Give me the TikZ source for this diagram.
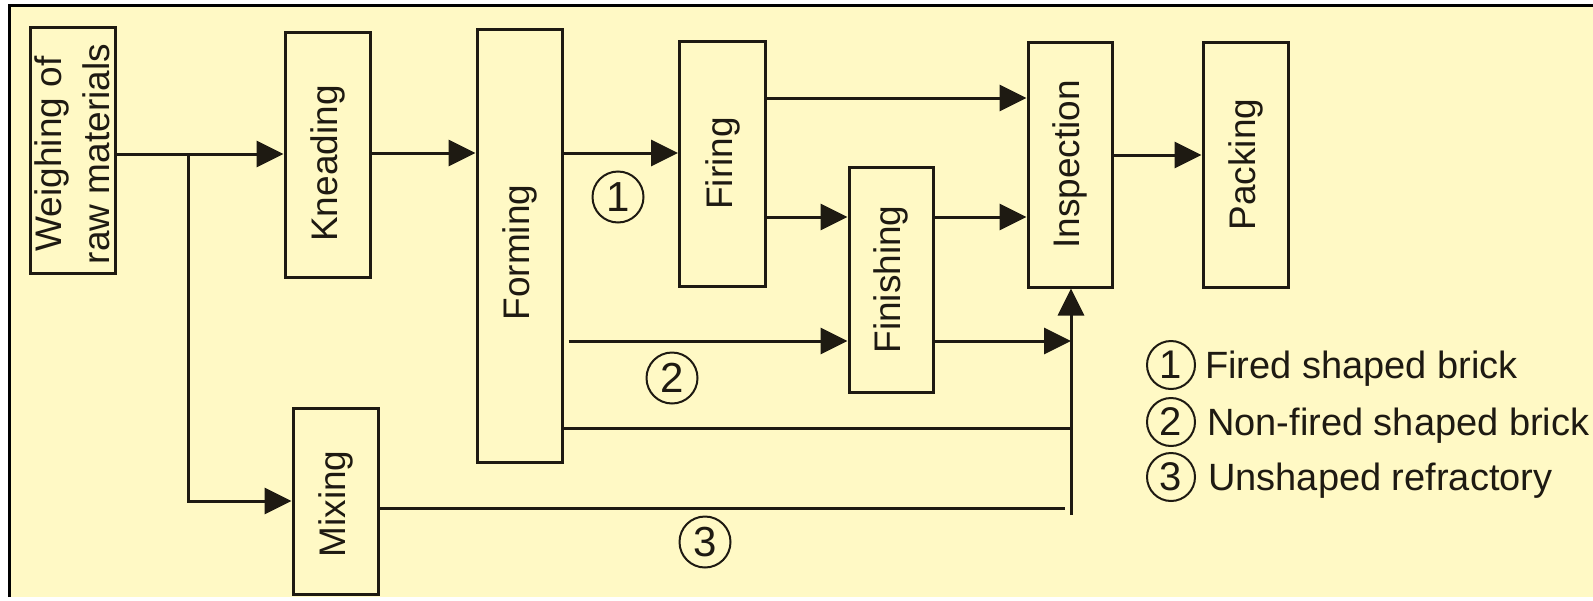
\documentclass[tikz,border=0pt]{standalone}
\usepackage{fontspec}
\setmainfont{Liberation Sans}
\usetikzlibrary{arrows.meta,calc}
\definecolor{bgy}{RGB}{255,249,197}
\definecolor{ink}{RGB}{30,26,18}
\begin{document}
\begin{tikzpicture}[x=1pt,y=-1pt,
  stepbox/.style={draw=ink, line width=3pt, inner sep=0pt, text=ink, font=\fontsize{37}{42}\selectfont},
  conn/.style={draw=ink, line width=3pt},
  arr/.style={conn, -{Triangle[length=27pt,width=26pt]}},
  num/.style={circle, draw=ink, line width=2pt, minimum size=51pt, inner sep=0pt, text=ink, font=\fontsize{42}{42}\selectfont},
  legtxt/.style={anchor=base west, inner sep=0pt, text=ink, font=\fontsize{38}{40}\selectfont}]
\useasboundingbox (0,0) rectangle (1593,600);
\fill[white] (0,0) rectangle (1593,600);
\fill[bgy] (9,5) rectangle (1593,597);
\draw[black, line width=3pt] (9.5,597) -- (9.5,5.5) -- (1593,5.5);

% boxes
\node[stepbox, minimum width=85pt, minimum height=246pt] (W) at (72.5,150)
  {\rotatebox{90}{\vbox{\baselineskip=48pt\halign{\hfil#\hfil\cr Weighing of\cr raw materials\cr}\kern0pt}\hspace{8pt}}};
\node[stepbox, minimum width=85pt, minimum height=245pt] (K) at (327.5,154.5) {\rotatebox{90}{Kneading\hspace{18pt}}};
\node[stepbox, minimum width=85pt, minimum height=186pt] (M) at (335.5,501) {\rotatebox{90}{Mixing\hspace{6pt}}};
\node[stepbox, minimum width=85pt, minimum height=433pt] (F) at (519.5,245.5) {\rotatebox{90}{Forming\hspace{14pt}}};
\node[stepbox, minimum width=86pt, minimum height=245pt] (Fi) at (722.5,163.5) {\rotatebox{90}{Firing}};
\node[stepbox, minimum width=84pt, minimum height=225pt] (Fn) at (891,279.5) {\rotatebox{90}{Finishing}};
\node[stepbox, minimum width=84pt, minimum height=245pt] (I) at (1070,164.5) {\rotatebox{90}{Inspection}};
\node[stepbox, minimum width=85pt, minimum height=245pt] (P) at (1245.5,164.5) {\rotatebox{90}{Packing}};

% helper levels
\coordinate (br) at (188,154);
\coordinate (yA) at (0,153);
\coordinate (yB) at (0,98);
\coordinate (yC) at (0,217);
\coordinate (yD) at (0,341);
\coordinate (yE) at (0,428);
\coordinate (yF) at (0,508);
\coordinate (yI) at (0,155);
\coordinate (bus) at (1071,515);

% connectors
\draw[arr] (W.east |- br) -- (K.west |- br);
\draw[arr] (br) |- (M.west);
\draw[arr] (K.east |- yA) -- (F.west |- yA);
\draw[arr] (F.east |- yA) -- (Fi.west |- yA);
\draw[arr] (Fi.east |- yB) -- (I.west |- yB);
\draw[arr] (Fi.east |- yC) -- (Fn.west |- yC);
\draw[arr] (Fn.east |- yC) -- (I.west |- yC);
\draw[arr] ([xshift=5pt]F.east |- yD) -- (Fn.west |- yD);
\draw[arr] (Fn.east |- yD) -- (bus |- yD);
\draw[arr] (bus) -- (bus |- I.south);
\draw[conn] (F.east |- yE) -- (bus |- yE);
\draw[conn] (M.east |- yF) -- ([xshift=-6pt]bus |- yF);
\draw[arr] (I.east |- yI) -- (P.west |- yI);

% route labels
\node[num] (n1) at (618,197) {1};
\node[num] (n2) at (672,378) {2};
\node[num] (n3) at (705,542) {3};

% legend
\node[num, minimum size=48pt, font=\fontsize{40}{40}\selectfont] (l1) at (1171,365) {1};
\node[legtxt] (t1) at (1205,378) {Fired shaped brick};
\node[num, minimum size=48pt, font=\fontsize{40}{40}\selectfont] (l2) at (1171,422) {2};
\node[legtxt] (t2) at (1207,435) {Non-fired shaped brick};
\node[num, minimum size=48pt, font=\fontsize{40}{40}\selectfont] (l3) at (1171,477) {3};
\node[legtxt] (t3) at (1208,490) {Unshaped refractory};
\end{tikzpicture}
\end{document}
